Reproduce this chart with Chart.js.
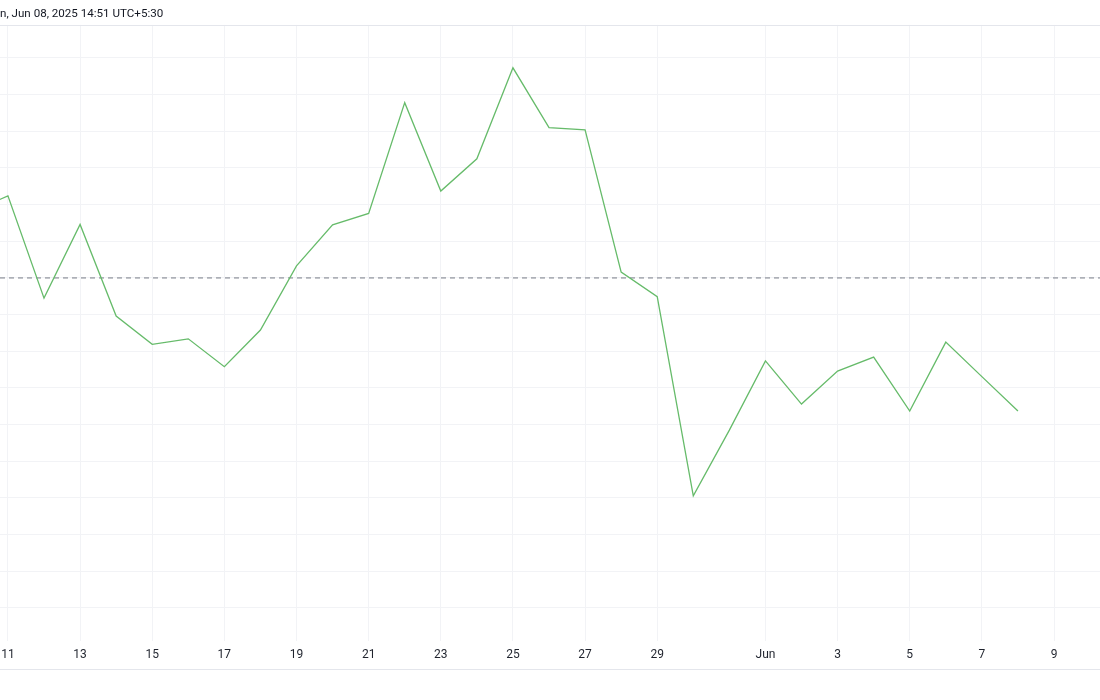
<!DOCTYPE html>
<html>
<head>
<meta charset="utf-8">
<script src="https://cdn.jsdelivr.net/npm/chart.js@4.4.1/dist/chart.umd.min.js"></script>
<style>
  html, body { margin: 0; padding: 0; background: #fff; }
  #wrap { width: 1100px; height: 700px; }
</style>
</head>
<body>
<div id="wrap"><canvas id="chart" width="1100" height="700"></canvas></div>
<script>
// ── Data ─────────────────────────────────────
// day number counted from May 1 (May 11 = 11, May 31 = 31, Jun 1 = 32)
const days = [10, 11, 12, 13, 14, 15, 16, 17, 18, 19, 20, 21, 22, 23, 24, 25,
              26, 27, 28, 29, 30, 31, 32, 33, 34, 35, 36, 37, 38, 39];
const closes = [101.80, 102.24, 99.45, 101.46, 98.96, 98.19, 98.34, 97.58, 98.58, 100.33,
                101.45, 101.76, 104.78, 102.37, 103.25, 105.73, 104.10, 104.04, 100.16, 99.49,
                94.06, 95.85, 97.74, 96.56, 97.46, 97.84, 96.37, 98.25, 97.31, 96.37];
const baseLine = 100;

const tickDays = [11, 13, 15, 17, 19, 21, 23, 25, 27, 29, 32, 34, 36, 38, 40];
const tickLabels = ['11', '13', '15', '17', '19', '21', '23', '25', '27', '29', 'Jun', '3', '5', '7', '9'];
const stampText = 'n, Jun 08, 2025 14:51 UTC+5:30';

// visible window
const xMin = 10.78, xMax = 41.275;
const yMin = 90.1, yMax = 106.9;

// ── Helpers ──────────────────────────────────
const gridColor = '#f2f3f6';
const frameColor = '#e4e6ec';
const textColor = '#1f232d';

const frameLines = {
    id: 'frameLines',
    afterDraw(chart) {
        const ctx = chart.ctx, area = chart.chartArea, xs = chart.scales.x;
        ctx.save();
        ctx.strokeStyle = frameColor;
        ctx.lineWidth = 1;
        ctx.beginPath();
        ctx.moveTo(0, Math.round(area.top) + 0.5);
        ctx.lineTo(chart.width, Math.round(area.top) + 0.5);
        ctx.moveTo(0, Math.round(xs.bottom) + 0.5);
        ctx.lineTo(chart.width, Math.round(xs.bottom) + 0.5);
        ctx.stroke();
        ctx.restore();
    }
};

// ── Chart ────────────────────────────────────
new Chart(document.getElementById('chart').getContext('2d'), {
    type: 'line',
    data: {
        datasets: [
            {
                label: 'Close',
                data: days.map((d, i) => ({ x: d, y: closes[i] })),
                borderColor: '#66bb6a',
                borderWidth: 1.3,
                pointRadius: 0,
                tension: 0,
                fill: false,
            },
            {
                label: 'Base',
                data: [{ x: xMin, y: baseLine }, { x: xMax, y: baseLine }],
                borderColor: '#787b86',
                borderWidth: 1,
                borderDash: [5, 4],
                pointRadius: 0,
                fill: false,
            },
        ],
    },
    options: {
        responsive: false,
        animation: false,
        layout: { padding: { left: 0, right: 0, top: 0, bottom: 31 } },
        plugins: {
            legend: { display: false },
            tooltip: { enabled: false },
            title: {
                display: true,
                text: stampText,
                align: 'start',
                color: '#131722',
                font: { family: 'Roboto', size: 11.6, weight: 'normal' },
                padding: { top: 7, bottom: 4 },
            },
        },
        scales: {
            x: {
                type: 'linear',
                min: xMin,
                max: xMax,
                afterBuildTicks: s => { s.ticks = tickDays.map(v => ({ value: v })); },
                afterFit: s => { s.height = 28; s.paddingLeft = 0; s.paddingRight = 0; },
                ticks: {
                    autoSkip: false,
                    maxRotation: 0,
                    padding: 7,
                    color: textColor,
                    font: { family: 'Roboto', size: 12 },
                    callback: (v, i) => tickLabels[i],
                },
                grid: { color: gridColor, drawTicks: false },
                border: { display: false },
            },
            y: {
                position: 'right',
                min: yMin,
                max: yMax,
                ticks: { display: false, stepSize: 1, includeBounds: false },
                afterFit: s => { s.width = 0; },
                grid: { color: gridColor, drawTicks: false },
                border: { display: false },
            },
        },
    },
    plugins: [frameLines],
});
</script>
</body>
</html>
